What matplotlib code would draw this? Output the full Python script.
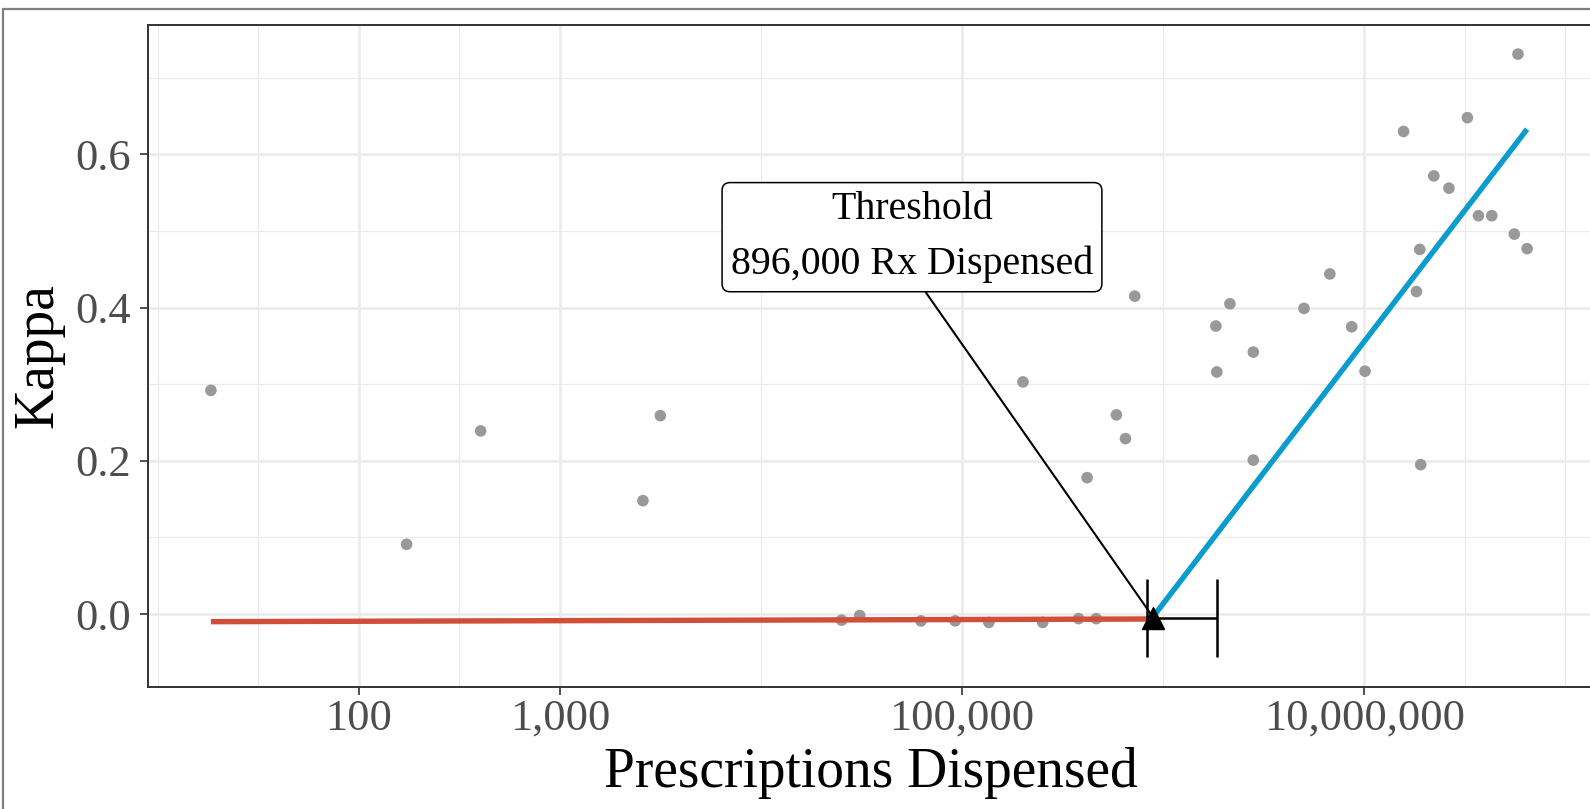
import numpy as np
import matplotlib
matplotlib.use('Agg')
import matplotlib.pyplot as plt
from matplotlib.ticker import FixedLocator, FuncFormatter, NullFormatter
from matplotlib.patches import Rectangle

# observed drugs: prescriptions dispensed vs kappa
rx = [18.4, 173, 404, 2590, 3160, 25200, 31000, 62500, 92500, 136000,
      201000, 252000, 380000, 419000, 465000, 586000, 650000, 723000,
      1830000, 1850000, 2150000, 2810000, 2810000, 5020000, 6750000,
      8670000, 10100000, 15700000, 18200000, 18900000, 19100000, 22200000,
      26400000, 32600000, 37000000, 43100000, 55800000, 58200000, 64600000]
kappa = [0.292, 0.091, 0.239, 0.148, 0.259, -0.008, -0.002, -0.009, -0.009, -0.011,
         0.303, -0.011, -0.006, 0.178, -0.006, 0.260, 0.229, 0.415,
         0.376, 0.316, 0.405, 0.342, 0.201, 0.399, 0.444,
         0.375, 0.317, 0.630, 0.421, 0.476, 0.195, 0.572,
         0.556, 0.648, 0.520, 0.520, 0.496, 0.731, 0.477]

# segmented fit
threshold = 896000
thr_kappa = -0.005
thr_lo, thr_hi = 836000, 1860000
low_x = [18.4, threshold]
low_y = [-0.010, -0.0065]
high_x = [threshold, 64600000]
high_y = [-0.003, 0.633]

x_breaks = [100, 1000, 100000, 10000000]
x_minor = [10, 10**1.5, 10**2.5, 10**4, 10**6, 10**7.5, 10**8]
y_breaks = [0.0, 0.2, 0.4, 0.6]
y_minor = [-0.1, 0.1, 0.3, 0.5, 0.7]

serif = 'Liberation Serif'
plt.rcParams['font.family'] = serif

fig = plt.figure(figsize=(15.9, 8.09), dpi=100)
ax = fig.add_axes([148/1590, 1 - 686.7/809, (1593-148)/1590, (686.7-25)/809])

ax.scatter(rx, kappa, s=70, color='#999999', edgecolors='none', zorder=2)
ax.plot(low_x, low_y, color='#D04E3A', lw=3.9, solid_capstyle='butt', zorder=3)
ax.plot(high_x, high_y, color='#0A9BCF', lw=3.9, solid_capstyle='butt', zorder=3)
ax.errorbar([threshold], [thr_kappa - 0.0006],
            xerr=[[threshold - thr_lo], [thr_hi - threshold]],
            fmt='none', ecolor='black', elinewidth=1.8, capsize=28, capthick=1.8, zorder=4)
ax.plot([threshold], [thr_kappa], marker='^', ms=16, color='black', ls='none', zorder=5)

ax.annotate('Threshold\n896,000 Rx Dispensed',
            xy=(threshold, thr_kappa), xytext=(56400, 0.492), textcoords='data',
            ha='center', va='center', fontsize=28.7, linespacing=1.6,
            bbox=dict(boxstyle='round,pad=0.22,rounding_size=0.2', fc='white', ec='black', lw=1.1),
            arrowprops=dict(arrowstyle='-', color='black', lw=1.5, shrinkA=0, shrinkB=0,
                            relpos=(0.52, 0)),
            zorder=6)

ax.set_xscale('log')
ax.set_xlim(10**0.952, 10**8.138)
ax.set_ylim(-0.0949, 0.769)
ax.xaxis.set_major_locator(FixedLocator(x_breaks))
ax.xaxis.set_major_formatter(FuncFormatter(lambda v, p: f'{v:,.0f}'))
ax.xaxis.set_minor_locator(FixedLocator(x_minor))
ax.xaxis.set_minor_formatter(NullFormatter())
ax.yaxis.set_major_locator(FixedLocator(y_breaks))
ax.yaxis.set_major_formatter(FuncFormatter(lambda v, p: f'{v:.1f}'))
ax.yaxis.set_minor_locator(FixedLocator(y_minor))

ax.set_axisbelow(True)
ax.grid(which='major', color='#EBEBEB', lw=1.8)
ax.grid(which='minor', color='#EBEBEB', lw=0.9)
ax.tick_params(which='major', length=6, width=1.2, color='#333333', labelcolor='#4D4D4D',
               labelsize=32)
ax.tick_params(axis='x', which='major', pad=2.5)
ax.tick_params(axis='y', which='major', pad=6)
ax.tick_params(which='minor', length=0)
for s in ax.spines.values():
    s.set_color('#333333')
    s.set_linewidth(1.4)

ax.set_xlabel('Prescriptions Dispensed', fontsize=40, color='black', labelpad=6)
ax.set_ylabel('Kappa', fontsize=40, color='black', labelpad=8)

fig.patches.append(Rectangle((2.7/1590, -0.2), 1.2, 1.2 - 9.3/809, transform=fig.transFigure,
                             fill=False, ec='#7F7F7F', lw=1.6))

fig.savefig('out.png', dpi=100)
